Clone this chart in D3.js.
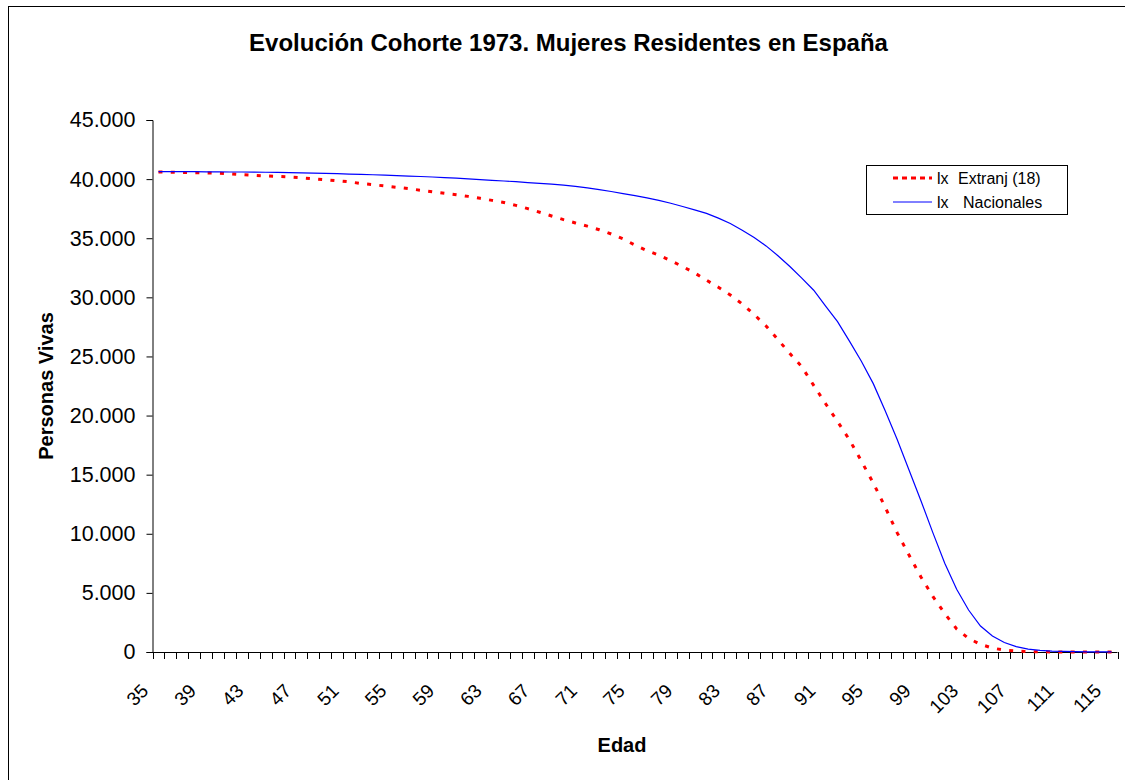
<!DOCTYPE html>
<html>
<head>
<meta charset="utf-8">
<script src="https://cdn.jsdelivr.net/npm/d3@7"></script>
<style>
  html, body { margin: 0; padding: 0; background: #fff; }
  svg { display: block; }
  text { font-family: "Liberation Sans", Arial, sans-serif; fill: #000; }
</style>
</head>
<body>
<svg id="chart" width="1125" height="780"></svg>
<script>
// ---- data ----
const ages = [
  35, 36, 37, 38, 39, 40, 41, 42, 43, 44,
  45, 46, 47, 48, 49, 50, 51, 52, 53, 54,
  55, 56, 57, 58, 59, 60, 61, 62, 63, 64,
  65, 66, 67, 68, 69, 70, 71, 72, 73, 74,
  75, 76, 77, 78, 79, 80, 81, 82, 83, 84,
  85, 86, 87, 88, 89, 90, 91, 92, 93, 94,
  95, 96, 97, 98, 99, 100, 101, 102, 103, 104,
  105, 106, 107, 108, 109, 110, 111, 112, 113, 114,
  115
];
const lxExtranj = [
  40600, 40590, 40570, 40550, 40530, 40500, 40450, 40380, 40320, 40270,
  40230, 40180, 40110, 40030, 39950, 39860, 39770, 39630, 39530, 39420,
  39310, 39190, 39060, 38930, 38800, 38680, 38540, 38380, 38200, 38020,
  37780, 37500, 37200, 36880, 36570, 36290, 36020, 35720, 35360, 34940,
  34420, 33950, 33570, 33100, 32600, 32070, 31450, 30850, 30200, 29440,
  28550, 27580, 26420, 25250, 24130, 22550, 21000, 19500, 17950, 16150,
  14300, 12250, 10100, 8200, 6350, 4700, 3250, 1950, 1150, 650,
  330, 160, 75, 35, 15, 7, 3, 1, 0, 0,
  0
];
const lxNacionales = [
  40640, 40640, 40630, 40630, 40620, 40610, 40600, 40600, 40590, 40580,
  40570, 40550, 40530, 40510, 40490, 40460, 40430, 40400, 40370, 40340,
  40300, 40260, 40220, 40180, 40130, 40080, 40020, 39960, 39900, 39840,
  39780, 39710, 39640, 39570, 39490, 39390, 39260, 39110, 38950, 38780,
  38600, 38420, 38200, 37960, 37680, 37400, 37100, 36700, 36250, 35680,
  35070, 34350, 33520, 32610, 31620, 30600, 29250, 27950, 26300, 24600,
  22700, 20400, 18000, 15400, 12800, 10100, 7500, 5300, 3550, 2200,
  1350, 800, 450, 250, 140, 80, 45, 25, 12, 6,
  3
];
const xTickLabels = [35, 39, 43, 47, 51, 55, 59, 63, 67, 71, 75, 79, 83, 87, 91, 95, 99, 103, 107, 111, 115];
const yTicks = [0, 5000, 10000, 15000, 20000, 25000, 30000, 35000, 40000, 45000];
const seriesNames = ["lx  Extranj (18)", "lx   Nacionales"];
const titleText = "Evolución Cohorte 1973. Mujeres Residentes en España";
const xTitle = "Edad";
const yTitle = "Personas Vivas";

// ---- layout ----
const svg = d3.select("#chart");
const plot = { left: 152.5, right: 1117.5, top: 120, bottom: 652 };

// outer chart border
svg.append("rect")
  .attr("x", 8.5).attr("y", 6.5)
  .attr("width", 1130).attr("height", 800)
  .attr("fill", "#fff").attr("stroke", "#000").attr("stroke-width", 1);

const x = d3.scaleBand().domain(ages).range([plot.left, plot.right]).paddingInner(0).paddingOuter(0);
const xc = a => x(a) + x.bandwidth() / 2;
const y = d3.scaleLinear().domain([0, 45000]).range([plot.bottom, plot.top]);

const locale = d3.formatLocale({ decimal: ",", thousands: ".", grouping: [3], currency: ["", ""] });
const fmt = locale.format(",d");

// y axis
const yAxis = d3.axisLeft(y).tickValues(yTicks).tickFormat(fmt).tickSize(6).tickPadding(11);
const gy = svg.append("g").attr("transform", `translate(${plot.left},0)`).call(yAxis);
gy.select(".domain").attr("stroke", "#000");
gy.selectAll(".tick line").attr("stroke", "#000");
gy.selectAll(".tick text")
  .style("font-family", '"Liberation Sans", Arial, sans-serif')
  .style("font-size", "21.5px").attr("fill", "#000");

// x axis line and ticks between categories
svg.append("line")
  .attr("x1", plot.left).attr("x2", plot.right)
  .attr("y1", plot.bottom + 0.5).attr("y2", plot.bottom + 0.5)
  .attr("stroke", "#000");
const bounds = ages.map(a => x(a)).concat([x(ages[ages.length - 1]) + x.bandwidth()]);
svg.append("g").selectAll("line").data(bounds).join("line")
  .attr("x1", d => Math.round(d) + 0.5).attr("x2", d => Math.round(d) + 0.5)
  .attr("y1", plot.bottom).attr("y2", plot.bottom + 7)
  .attr("stroke", "#000");

// x tick labels rotated
svg.append("g").selectAll("text").data(xTickLabels).join("text")
  .attr("transform", d => `translate(${xc(d) - 9},${plot.bottom + 40}) rotate(-45)`)
  .attr("text-anchor", "end")
  .style("font-size", "19px")
  .text(d => d);

// lines
const line = d3.line().x((d, i) => xc(ages[i])).y(d => y(d));
svg.append("path").datum(lxExtranj)
  .attr("d", line).attr("fill", "none")
  .attr("stroke", "#ff0000").attr("stroke-width", 3)
  .attr("stroke-dasharray", "4,8.3");
svg.append("path").datum(lxNacionales)
  .attr("d", line).attr("fill", "none")
  .attr("stroke", "#0000ff").attr("stroke-width", 1.2);

// title
svg.append("text").attr("x", 568.5).attr("y", 51)
  .attr("text-anchor", "middle").style("font-size", "24px").style("font-weight", "bold")
  .text(titleText);

// axis titles
svg.append("text").attr("x", 622).attr("y", 752)
  .attr("text-anchor", "middle").style("font-size", "20px").style("font-weight", "bold")
  .text(xTitle);
svg.append("text").attr("transform", `translate(53,${(plot.top + plot.bottom) / 2}) rotate(-90)`)
  .attr("text-anchor", "middle").style("font-size", "20px").style("font-weight", "bold")
  .text(yTitle);

// legend
const lg = svg.append("g");
lg.append("rect").attr("x", 866.5).attr("y", 165.5).attr("width", 201).attr("height", 49)
  .attr("fill", "#fff").attr("stroke", "#000");
lg.append("line").attr("x1", 893).attr("x2", 932).attr("y1", 178).attr("y2", 178)
  .attr("stroke", "#ff0000").attr("stroke-width", 3).attr("stroke-dasharray", "5,4");
lg.append("line").attr("x1", 893).attr("x2", 932).attr("y1", 202).attr("y2", 202)
  .attr("stroke", "#0000ff").attr("stroke-width", 1);
const legendRows = [
  { lx: 937, name: "Extranj (18)", nx: 958, y: 184 },
  { lx: 937, name: "Nacionales", nx: 963, y: 208 }
];
legendRows.forEach((r, i) => {
  const parts = seriesNames[i].split(/\s+/);
  lg.append("text").attr("x", r.lx).attr("y", r.y).style("font-size", "16px").text(parts[0]);
  lg.append("text").attr("x", r.nx).attr("y", r.y).style("font-size", "16px").text(parts.slice(1).join(" "));
});
</script>
</body>
</html>
